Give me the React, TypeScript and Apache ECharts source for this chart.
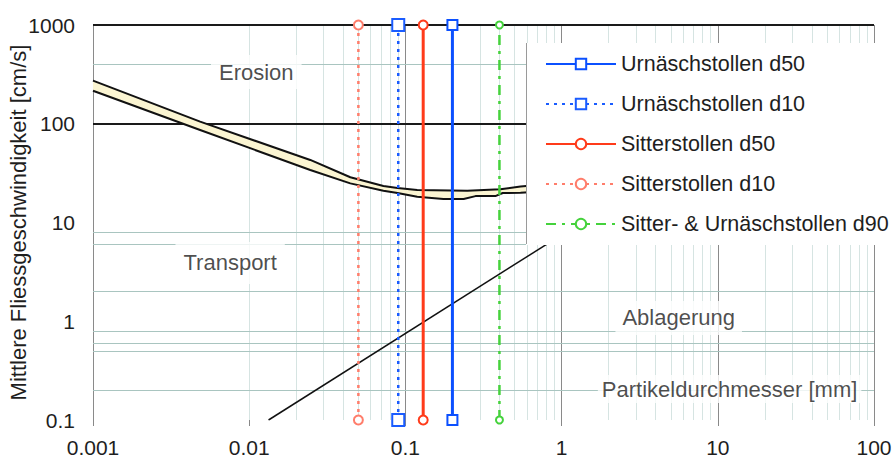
import React, { useEffect, useRef } from 'react';
import * as echarts from 'echarts';

// ---- Axis tick labels ----
const xTickLabels = ['0.001', '0.01', '0.1', '1', '10', '100'];
const yTickLabels = ['0.1', '1', '10', '100', '1000'];

// ---- Erosion / deposition band (Hjulström-type curve), [diameter mm, velocity cm/s] ----
const bandUpper: number[][] = [
  [0.001, 273], [0.00485, 105], [0.0246, 43], [0.0444, 28.7], [0.0723, 23.4],
  [0.089, 22.3], [0.119, 21.3], [0.249, 21.0], [0.406, 21.7], [0.546, 23.1], [0.7, 24]
];
const bandLower: number[][] = [
  [0.001, 216], [0.00485, 86.5], [0.0246, 34], [0.0444, 24.9], [0.0723, 21],
  [0.089, 19.9], [0.119, 18.2], [0.175, 17.3], [0.236, 17.3], [0.281, 18.5],
  [0.38, 18.6], [0.42, 19.9], [0.546, 20], [0.7, 20.5]
];

// ---- Deposition line ----
const depositionLine: number[][] = [[0.0133, 0.1], [1.0, 7.5]];

// ---- Grain-size lines ----
const sizeNames = [
  'Urnäschstollen d50',
  'Urnäschstollen d10',
  'Sitterstollen d50',
  'Sitterstollen d10',
  'Sitter- & Urnäschstollen d90'
];
const sizeValues = [0.2, 0.09, 0.13, 0.05, 0.4];
const velocityRange = [0.1, 1000];

// ---- Region labels ----
const regionNames = ['Erosion', 'Transport', 'Ablagerung', 'Partikeldurchmesser [mm]'];
const regionX = [0.0111, 0.00755, 5.62, 11.9];
const regionY = [334, 3.89, 1.08, 0.206];

// ---- Grid lines visible in the figure ----
const majorHGrid = [1000, 100];
const minorHGrid = [400, 8, 6, 2, 0.8, 0.6, 0.5, 0.2];
const decades = [0.001, 0.01, 0.1, 1, 10];
const minorSteps = [2, 3, 4, 5, 6, 7, 8, 9];

// axis extents
const xMin = 0.001;
const xMax = 100;
const yMin = 0.1;
const yMax = 1000;

// styles (kept apart from data)
const sizeStyles = [
  { color: '#0b50ff', type: 'solid', width: 3, symbol: 'emptyRect', size: 10 },
  { color: '#1a5cff', type: [3, 5], width: 2.5, symbol: 'emptyRect', size: 12 },
  { color: '#ff3b1a', type: 'solid', width: 3, symbol: 'emptyCircle', size: 9 },
  { color: '#ff7d6b', type: [3, 5], width: 2.5, symbol: 'emptyCircle', size: 9 },
  { color: '#45d23c', type: [10, 6, 3, 6], width: 2.5, symbol: 'emptyCircle', size: 7 }
];
const labelPads = [[6, 8], [10, 8], [6, 7], [3, 4]];

const FONT = '"Liberation Sans", Arial, sans-serif';
const TEXT = '#1e1e1e';
const GRID = { left: 93, right: 18, top: 25, bottom: 41 };

function buildOption(): any {
  const minorV: number[] = [];
  decades.forEach((d) => minorSteps.forEach((s) => minorV.push(+(d * s).toPrecision(3))));

  const gridMarks: any[] = [
    ...minorV.map((v) => ({ xAxis: v, lineStyle: { color: '#d6e4e2', width: 1, type: 'solid' } })),
    ...minorHGrid.map((v) => ({ yAxis: v, lineStyle: { color: '#a9c5c0', width: 1, type: 'solid' } })),
    ...majorHGrid.map((v) => ({ yAxis: v, lineStyle: { color: '#1a1a1a', width: 2, type: 'solid' } }))
  ];

  const series: any[] = [
    {
      type: 'line',
      name: 'grid',
      data: [],
      z: 1,
      silent: true,
      markLine: {
        z: 1,
        silent: true,
        symbol: ['none', 'none'],
        label: { show: false },
        animation: false,
        data: gridMarks
      }
    },
    {
      type: 'custom',
      name: 'band',
      z: 2,
      silent: true,
      data: [[0.001, 100]],
      renderItem: (params: any, api: any) => {
        const pts = bandUpper
          .map((p) => api.coord(p))
          .concat(bandLower.slice().reverse().map((p) => api.coord(p)));
        return { type: 'polygon', shape: { points: pts }, style: { fill: '#fbf5d2', stroke: 'none' } };
      }
    },
    {
      type: 'line', name: 'bandUpper', data: bandUpper, z: 3, silent: true,
      showSymbol: false, symbol: 'none', lineStyle: { color: '#111', width: 2 }
    },
    {
      type: 'line', name: 'bandLower', data: bandLower, z: 3, silent: true,
      showSymbol: false, symbol: 'none', lineStyle: { color: '#111', width: 2 }
    },
    {
      type: 'line', name: 'deposition', data: depositionLine, z: 3, silent: true,
      showSymbol: false, symbol: 'none', lineStyle: { color: '#111', width: 1.5 }
    },
    ...sizeNames.map((n, i) => {
      const st = sizeStyles[i];
      return {
        type: 'line',
        name: n,
        z: 4,
        clip: false,
        data: velocityRange.map((v) => [sizeValues[i], v]),
        symbol: st.symbol,
        symbolSize: st.size,
        showSymbol: true,
        lineStyle: { color: st.color, width: st.width, type: st.type },
        itemStyle: { color: st.color, borderWidth: 2 }
      };
    }),
    {
      type: 'scatter',
      name: 'labels',
      z: 5,
      silent: true,
      symbolSize: 0,
      data: regionNames.map((n, i) => ({
        name: n,
        value: [regionX[i], regionY[i]],
        label: { padding: labelPads[i] }
      })),
      label: {
        show: true,
        position: 'inside',
        formatter: '{b}',
        fontSize: 22,
        color: TEXT,
        fontFamily: FONT,
        backgroundColor: '#fff'
      }
    }
  ];

  return {
    animation: false,
    backgroundColor: '#fff',
    textStyle: { fontFamily: FONT },
    grid: { ...GRID, containLabel: false, outerBoundsMode: 'none' },
    xAxis: {
      type: 'log',
      logBase: 10,
      min: xMin,
      max: xMax,
      nameMoveOverlap: false,
      axisLine: { show: false },
      axisTick: { show: true, length: 6, lineStyle: { color: '#888' } },
      axisLabel: {
        fontSize: 21,
        color: TEXT,
        margin: 17,
        hideOverlap: false,
        formatter: (v: number) => xTickLabels[Math.round(Math.log10(v)) + 3]
      },
      splitLine: { show: true, lineStyle: { color: '#8a8a8a', width: 1 } }
    },
    yAxis: {
      type: 'log',
      logBase: 10,
      min: yMin,
      max: yMax,
      nameMoveOverlap: false,
      axisLine: { show: false },
      axisTick: { show: false },
      splitLine: { show: false },
      axisLabel: {
        fontSize: 21,
        color: TEXT,
        margin: 18,
        hideOverlap: false,
        showMinLabel: false,
        formatter: (v: number) => yTickLabels[Math.round(Math.log10(v)) + 1]
      },
      name: 'Mittlere Fliessgeschwindigkeit [cm/s]',
      nameLocation: 'middle',
      nameGap: 64,
      nameTextStyle: { fontSize: 22, color: TEXT }
    },
    legend: {
      data: sizeNames,
      orient: 'vertical',
      left: 526,
      top: 43,
      padding: [10, 6, 10, 19],
      itemWidth: 70,
      itemHeight: 13,
      itemGap: 18,
      backgroundColor: '#fff',
      selectedMode: false,
      z: 10,
      textStyle: { fontSize: 21.5, color: TEXT, fontFamily: FONT }
    },
    graphic: [
      {
        type: 'line',
        z: 20,
        shape: { x1: 526.5, y1: 43, x2: 526.5, y2: 244 },
        style: { stroke: '#9a9a9a', lineWidth: 1 }
      },
      {
        // lowest y tick label at the axis corner (left of the plot's bottom-left)
        type: 'text',
        z: 20,
        x: GRID.left - 18,
        y: 461 - GRID.bottom,
        style: {
          text: yTickLabels[0],
          fill: TEXT,
          font: `21px ${FONT}`,
          align: 'right',
          verticalAlign: 'middle'
        }
      }
    ],
    series
  };
}

export default function App() {
  const ref = useRef<HTMLDivElement>(null);
  useEffect(() => {
    if (!ref.current) return;
    const chart = echarts.init(ref.current, null, { renderer: 'svg' });
    chart.setOption(buildOption());
    return () => chart.dispose();
  }, []);
  return (
    <div
      ref={ref}
      style={{ position: 'absolute', left: 0, top: 0, width: 892, height: 461 }}
    />
  );
}
